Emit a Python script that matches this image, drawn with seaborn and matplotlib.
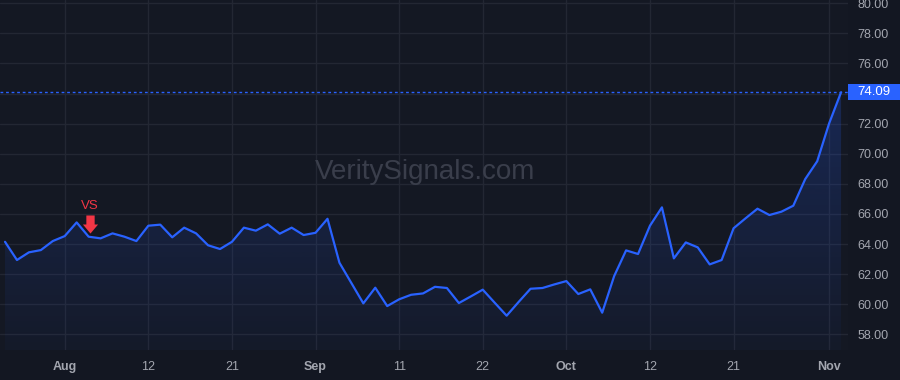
import numpy as np
import pandas as pd
import matplotlib
matplotlib.use("Agg")
import matplotlib.pyplot as plt
import matplotlib.transforms as mtransforms
from matplotlib.patches import Rectangle
from matplotlib.path import Path
import seaborn as sns

# ---------------- data ----------------
prices = [64.15, 62.94, 63.45, 63.60, 64.20, 64.53, 65.44, 64.49, 64.38, 64.71,
          64.49, 64.20, 65.22, 65.29, 64.45, 65.09, 64.71, 63.92, 63.67, 64.15,
          65.09, 64.89, 65.31, 64.69, 65.09, 64.60, 64.75, 65.68, 62.76, 61.41,
          60.06, 61.10, 59.88, 60.33, 60.63, 60.72, 61.16, 61.08, 60.08, 60.52,
          60.97, 60.10, 59.24, 60.15, 61.03, 61.08, 61.32, 61.54, 60.68, 60.99,
          59.44, 61.87, 63.58, 63.34, 65.22, 66.44, 63.05, 64.11, 63.78, 62.65,
          62.94, 65.05, 65.71, 66.35, 65.93, 66.15, 66.55, 68.32, 69.50, 72.02, 74.09]
bars = list(range(len(prices)))

tick_bars = [5, 12, 19, 26, 33, 40, 47, 54, 61, 69]
tick_labels = ["Aug", "12", "21", "Sep", "11", "22", "Oct", "12", "21", "Nov"]
month_labels = {"Aug", "Sep", "Oct", "Nov"}

y_ticks = [58, 60, 62, 64, 66, 68, 70, 72, 74, 76, 78, 80]

signal_bar = 7
signal_text = "VS"
last_price = prices[-1]
watermark = "VeritySignals.com"

# ---------------- style ----------------
BG = "#131722"
PLOT_BG = "#141823"
GRID = "#232733"
LINE = "#2962ff"
RED = "#f23645"
TXT = "#a3a6af"

sns.set_theme(style="dark")
plt.rcParams["font.family"] = ["Liberation Sans", "DejaVu Sans"]

df = pd.DataFrame({"bar": bars, "price": prices})

fig = plt.figure(figsize=(9, 3.8), dpi=100, facecolor=BG)
ax = fig.add_axes([0, 30 / 380, 848 / 900, 350 / 380])
ax.set_facecolor(PLOT_BG)

ax.set_xlim(-0.42, 70.58)
ax.set_ylim(56.96, 80.22)

# grid
ax.set_xticks(tick_bars)
ax.set_yticks(y_ticks)
ax.grid(True, color=GRID, linewidth=1)
for s in ax.spines.values():
    s.set_visible(False)

# gradient area fill
poly = ax.fill_between(df["bar"], df["price"], 56.96, color="none", lw=0)
grad = np.linspace(0.22, 0.03, 256).reshape(-1, 1)
rgba = np.zeros((256, 1, 4))
rgba[..., 0] = 41 / 255
rgba[..., 1] = 98 / 255
rgba[..., 2] = 1.0
rgba[..., 3] = grad
im = ax.imshow(rgba, extent=[0, len(prices) - 1, 56.96, max(prices)],
               aspect="auto", origin="upper", zorder=1)
clip_path = poly.get_paths()[0]
im.set_clip_path(clip_path, transform=ax.transData)
ax.set_xlim(-0.42, 70.58)
ax.set_ylim(56.96, 80.22)

# price line
sns.lineplot(data=df, x="bar", y="price", ax=ax, color=LINE, linewidth=1.6, zorder=3)

# last price dotted line
ax.axhline(last_price, color=LINE, linewidth=1, linestyle=(0, (2, 2)), zorder=2)

# ticks
ax.set_xlabel("")
ax.set_ylabel("")
ax.yaxis.tick_right()
ax.tick_params(axis="y", length=0, pad=7, labelsize=9, labelcolor=TXT)
ax.tick_params(axis="x", length=0, pad=8, labelsize=9, labelcolor=TXT)
ax.set_xticklabels(tick_labels)
for lab in ax.get_xticklabels():
    if lab.get_text() in month_labels:
        lab.set_fontweight("bold")
ax.set_yticklabels([f"{v:.2f}" for v in y_ticks])
for lab, v in zip(ax.get_yticklabels(), y_ticks):
    if abs(v - last_price) < 1.0:
        lab.set_visible(False)

# last price label box
trans = mtransforms.blended_transform_factory(ax.transAxes, ax.transData)
box_h = 16 / 15.045
ax.add_patch(Rectangle((1.0, last_price - box_h / 2), 52 / 848, box_h,
                       transform=trans, clip_on=False, facecolor=LINE,
                       edgecolor="none", zorder=5))
ax.text(1.0 + 26 / 848, last_price, f"{last_price:.2f}", transform=trans,
        ha="center", va="center", color="white", fontsize=9.5, zorder=6,
        clip_on=False)

# signal marker (down arrow) + label
arrow_verts = [(-0.23, 0.5), (0.23, 0.5), (0.23, 0.0), (0.42, 0.0), (0.0, -0.5),
               (-0.42, 0.0), (-0.23, 0.0), (-0.23, 0.5)]
arrow_codes = [Path.MOVETO] + [Path.LINETO] * 6 + [Path.CLOSEPOLY]
arrow = Path(arrow_verts, arrow_codes)
off = mtransforms.ScaledTranslation(1.5 / 100, 12.7 / 100, fig.dpi_scale_trans)
ax.plot([signal_bar], [prices[signal_bar]], marker=arrow, markersize=13,
        color=RED, markeredgewidth=0, linestyle="none",
        transform=ax.transData + off, zorder=6)
ax.annotate(signal_text, xy=(signal_bar, prices[signal_bar]),
            xytext=(1.5, 31), textcoords="offset pixels", ha="center",
            va="center", color=RED, fontsize=9.5, zorder=6)

# watermark
fig.text(425 / 900, 1 - 172 / 380, watermark, ha="center", va="center",
         color="#3a3e4b", fontsize=20, zorder=0)

fig.savefig("out.png", dpi=100, facecolor=BG)
